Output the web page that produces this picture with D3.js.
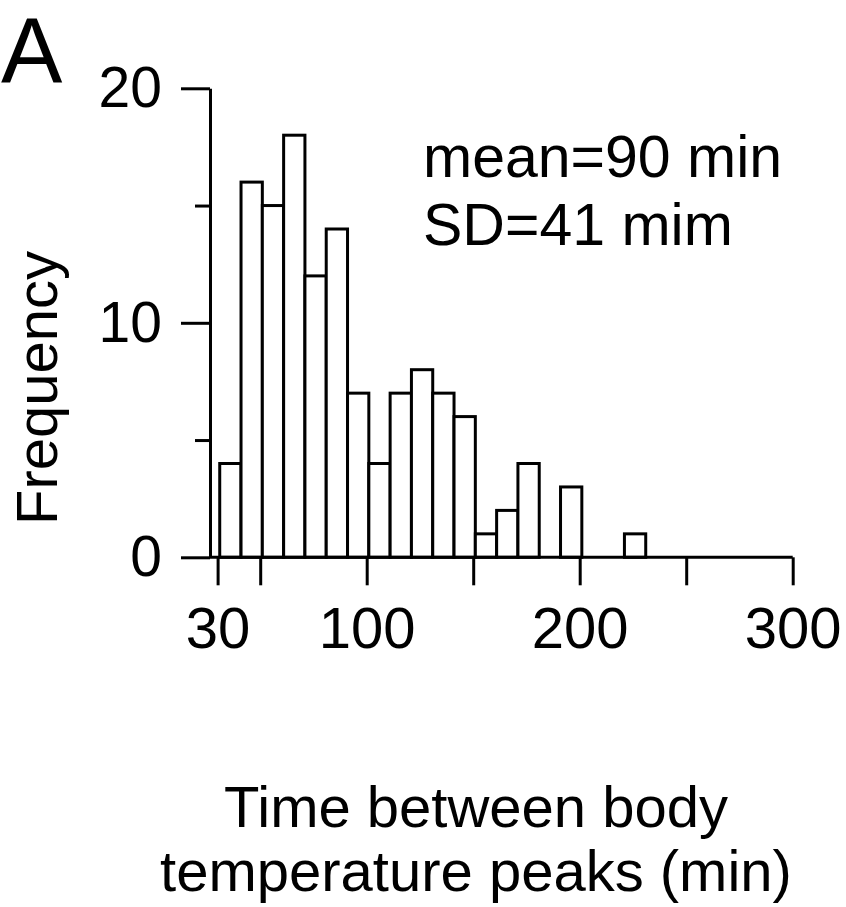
<!DOCTYPE html>
<html>
<head>
<meta charset="utf-8">
<script src="https://cdn.jsdelivr.net/npm/d3@7"></script>
<style>
  body { margin: 0; background: #fff; }
  svg text { font-family: "Liberation Sans", Arial, sans-serif; fill: #000; }
</style>
</head>
<body>
<div id="chart"></div>
<script>
// Histogram bins: left edge of each 10-min bin and its count
const binStarts = [31, 41, 51, 61, 71, 81, 91, 101, 111, 121, 131, 141, 151, 161, 171, 181, 191, 201, 211, 221, 231, 241, 251];
const counts    = [4, 16, 15, 18, 12, 14, 7, 4, 7, 8, 7, 6, 1, 2, 4, 0, 3, 0, 0, 1, 0, 0, 0];
const binWidth = 10;

const xTicks = [30, 50, 100, 150, 200, 250, 300];
const xTickLabels = [30, 100, 200, 300];
const yMajorTicks = [0, 10, 20];
const yMinorTicks = [5, 15];

const statLines = ["mean=90 min", "SD=41 mim"];
const xLabelLines = ["Time between body", "temperature peaks (min)"];

const width = 846, height = 907;
const svg = d3.select("#chart").append("svg")
  .attr("width", width)
  .attr("height", height);

const xScale = d3.scaleLinear().domain([30, 300]).range([217.6, 792.7]);
const yScale = d3.scaleLinear().domain([0, 20]).range([557.3, 88.3]);
const axisX = 210;

// bars
svg.append("g")
  .selectAll("rect")
  .data(counts)
  .enter()
  .append("rect")
  .attr("x", (d, i) => xScale(binStarts[i]))
  .attr("y", d => yScale(d))
  .attr("width", (d, i) => xScale(binStarts[i] + binWidth) - xScale(binStarts[i]))
  .attr("height", d => yScale(0) - yScale(d))
  .attr("fill", "#fff")
  .attr("stroke", "#000")
  .attr("stroke-width", 3);

// y axis
const yAxis = svg.append("g")
  .attr("transform", `translate(${axisX},0)`)
  .call(d3.axisLeft(yScale).tickValues(yMajorTicks).tickSize(29).tickSizeOuter(0).tickPadding(19));
yAxis.append("g")
  .call(d3.axisLeft(yScale).tickValues(yMinorTicks).tickSize(15).tickFormat(""))
  .select(".domain").remove();
yAxis.selectAll("path, line").attr("stroke", "#000").attr("stroke-width", 3);
yAxis.selectAll("text").attr("font-size", 57).attr("font-family", null);

// x axis
const xAxis = svg.append("g")
  .attr("transform", `translate(0,${yScale(0)})`)
  .call(d3.axisBottom(xScale)
    .tickValues(xTicks)
    .tickSize(28)
    .tickSizeOuter(0)
    .tickPadding(22)
    .tickFormat(d => xTickLabels.includes(d) ? d : ""));
xAxis.select(".domain").remove();
xAxis.append("line")
  .attr("x1", axisX).attr("x2", xScale(300))
  .attr("stroke", "#000").attr("stroke-width", 3);
xAxis.selectAll("line").attr("stroke", "#000").attr("stroke-width", 3);
xAxis.selectAll("text").attr("font-size", 58).attr("font-family", null);

// stats text
svg.append("g")
  .selectAll("text")
  .data(statLines)
  .enter()
  .append("text")
  .attr("x", 423)
  .attr("y", (d, i) => 177 + i * 68)
  .attr("font-size", 59)
  .text(d => d);

// axis titles
svg.append("text")
  .attr("transform", "translate(57,388) rotate(-90)")
  .attr("text-anchor", "middle")
  .attr("font-size", 58)
  .text("Frequency");

svg.append("g")
  .selectAll("text")
  .data(xLabelLines)
  .enter()
  .append("text")
  .attr("x", 476)
  .attr("y", (d, i) => 827 + i * 64)
  .attr("text-anchor", "middle")
  .attr("font-size", 58)
  .text(d => d);

// panel letter
svg.append("text")
  .attr("x", 1)
  .attr("y", 83)
  .attr("font-size", 92)
  .text("A");
</script>
</body>
</html>
